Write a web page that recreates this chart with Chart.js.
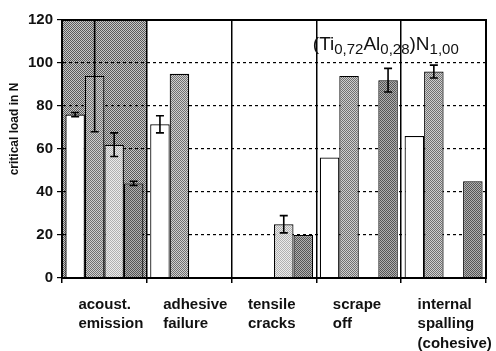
<!DOCTYPE html>
<html>
<head>
<meta charset="utf-8">
<script src="https://cdn.jsdelivr.net/npm/chart.js@4.4.0/dist/chart.umd.min.js"></script>
<style>
  html, body { margin: 0; padding: 0; background: #fff; }
  #wrap { width: 496px; height: 351px; }
</style>
</head>
<body>
<div id="wrap"><canvas id="chart" width="496" height="351"></canvas></div>
<script>
// categories (multi-line labels)
const categories = [
  ['acoust.', 'emission'],
  ['adhesive', 'failure'],
  ['tensile', 'cracks'],
  ['scrape', 'off'],
  ['internal', 'spalling', '(cohesive)']
]

// four sample series (null = no bar)
const whiteVals  = [76, 71.5, null, 56, 66]
const whiteErr   = [1, 4, 0, 0, 0]
const mediumVals = [94, 95, null, 94, 96]
const mediumErr  = [26, 0, 0, 0, 3]
const lightVals  = [62, null, 25, null, null]
const lightErr   = [5.5, 0, 4, 0, 0]
const darkVals   = [44, null, 20, 92, 45]
const darkErr    = [1, 0, 0, 5.5, 0]

// shaded band behind the first group
const bandVals = [120, null, null, null, null]

const yTicks = [0, 20, 40, 60, 80, 100, 120]

// small dotted textures like the scan
function dots(c1, c2) {
  const t = document.createElement('canvas')
  t.width = 2; t.height = 2
  const g = t.getContext('2d')
  g.fillStyle = c2; g.fillRect(0, 0, 2, 2)
  g.fillStyle = c1; g.fillRect(0, 0, 1, 1); g.fillRect(1, 1, 1, 1)
  return g.createPattern(t, 'repeat')
}

const ctx = document.getElementById('chart').getContext('2d')
const medFill  = dots('#707070', '#cfcfcf')
const lightFill = dots('#b0b0b0', '#ebebeb')
const darkFill = dots('#555555', '#b0b0b0')
const bandFill = dots('rgba(0,0,0,0.55)', 'rgba(0,0,0,0.22)')

const FONT = "'Liberation Sans', Arial, sans-serif"

const errorBars = {
  id: 'errorBars',
  afterDatasetsDraw(chart) {
    const c = chart.ctx
    const y = chart.scales.y
    const area = chart.chartArea
    c.save()
    c.strokeStyle = '#000'
    c.lineWidth = 1.6
    chart.data.datasets.forEach((ds, di) => {
      if (!ds.errors) return
      const meta = chart.getDatasetMeta(di)
      meta.data.forEach((bar, i) => {
        const v = ds.data[i], e = ds.errors[i]
        if (v == null || !e) return
        const top = Math.max(y.getPixelForValue(v + e), area.top)
        const bot = y.getPixelForValue(v - e)
        c.beginPath()
        c.moveTo(bar.x, top); c.lineTo(bar.x, bot)
        c.moveTo(bar.x - 4, top); c.lineTo(bar.x + 4, top)
        c.moveTo(bar.x - 4, bot); c.lineTo(bar.x + 4, bot)
        c.stroke()
      })
    })
    c.restore()
  }
}

const frame = {
  id: 'frame',
  afterDatasetsDraw(chart) {
    const c = chart.ctx, a = chart.chartArea
    c.save()
    c.strokeStyle = '#000'
    c.lineWidth = 2
    c.strokeRect(a.left, a.top, a.right - a.left, a.bottom - a.top)
    c.restore()
  }
}

// formula label (Ti0,72Al0,28)N1,00 with subscripts
const formula = {
  id: 'formula',
  afterDraw(chart) {
    const c = chart.ctx, a = chart.chartArea
    const parts = [['(Ti', false], ['0,72', true], ['Al', false], ['0,28', true], [')N', false], ['1,00', true]]
    let x = chart.scales.x.getPixelForValue(3) - 46
    const base = a.top + 30
    c.save()
    c.fillStyle = '#111'
    c.textBaseline = 'alphabetic'
    parts.forEach(([t, sub]) => {
      c.font = sub ? '15px ' + FONT : '19px ' + FONT
      c.fillText(t, x, sub ? base + 4 : base)
      x += c.measureText(t).width
    })
    c.restore()
  }
}

function bar(label, data, errors, fill) {
  return {
    label: label,
    data: data,
    errors: errors,
    backgroundColor: fill,
    borderColor: '#000',
    borderWidth: 1.2,
    borderSkipped: 'bottom',
    order: 1
  }
}

const data = {
  labels: categories,
  datasets: [
    bar('white', whiteVals, whiteErr, '#ffffff'),
    bar('medium', mediumVals, mediumErr, medFill),
    bar('light', lightVals, lightErr, lightFill),
    bar('dark', darkVals, darkErr, darkFill),
    {
      label: 'band',
      data: bandVals,
      backgroundColor: bandFill,
      borderWidth: 0,
      grouped: false,
      barPercentage: 1,
      categoryPercentage: 1,
      order: 10
    }
  ]
}

const config = {
  type: 'bar',
  data: data,
  options: {
    responsive: false,
    animation: false,
    devicePixelRatio: 1,
    layout: { padding: { top: 20, right: 10, left: 0, bottom: 0 } },
    datasets: { bar: { barPercentage: 1, categoryPercentage: 0.92 } },
    plugins: { legend: { display: false }, tooltip: { enabled: false } },
    scales: {
      x: {
        offset: true,
        grid: { color: '#000', lineWidth: 1.5, drawTicks: true, tickLength: 5, offset: true },
        border: { color: '#000', width: 2 },
        ticks: {
          color: '#111',
          font: { family: FONT, size: 15, weight: 'bold', lineHeight: 1.3 },
          align: 'start',
          labelOffset: -26,
          padding: 12,
          maxRotation: 0,
          autoSkip: false
        },
        afterFit(s) { s.height = 73; s.paddingLeft = 0; s.paddingRight = 0 }
      },
      y: {
        min: 0,
        max: 120,
        afterBuildTicks(s) { s.ticks = yTicks.map(v => ({ value: v })) },
        grid: { color: '#000', lineWidth: 1.2, drawTicks: true, tickLength: 5 },
        border: { color: '#000', width: 2, dash: [3, 3] },
        ticks: {
          color: '#111',
          font: { family: FONT, size: 15, weight: 'bold' },
          padding: 4
        },
        title: {
          display: true,
          text: '            critical load in N',
          color: '#111',
          font: { family: FONT, size: 12, weight: 'bold' },
          padding: { top: 7, bottom: 0 }
        },
        afterFit(s) { s.width = 62 }
      }
    }
  },
  plugins: [errorBars, frame, formula]
}

myChart = new Chart(ctx, config)
</script>
</body>
</html>
